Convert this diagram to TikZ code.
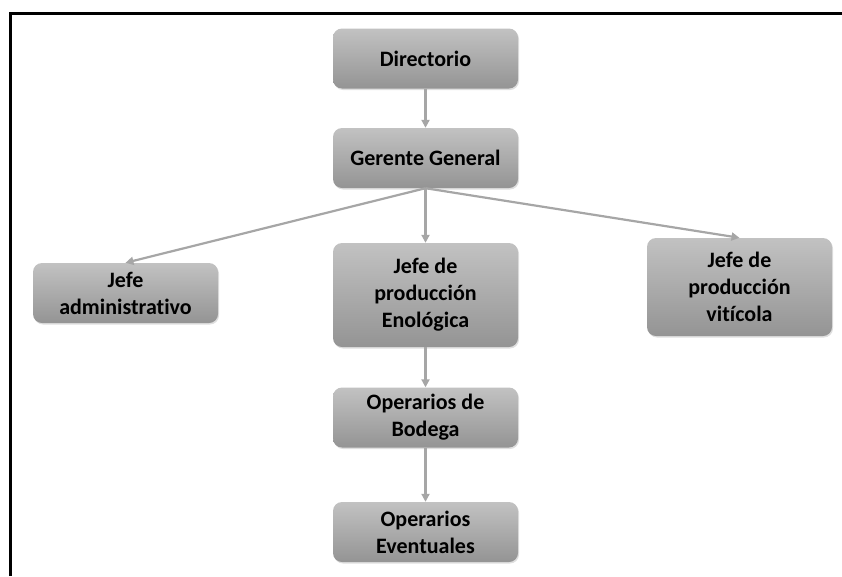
\documentclass[tikz,border=0pt]{standalone}
\usepackage{fontspec}
\setmainfont{Carlito}[Ligatures={NoCommon}]
\usetikzlibrary{arrows.meta,shadows}
\begin{document}
\begin{tikzpicture}[x=1pt,y=-1pt,
  cargo/.style={draw=none, rounded corners=9pt, top color=black!24, bottom color=black!42,
    drop shadow={opacity=0.25, shadow xshift=1pt, shadow yshift=-1.5pt},
    minimum width=185pt, minimum height=60pt, align=center,
    font=\fontsize{22}{27}\selectfont\bfseries},
  flecha/.style={draw=black!35, line width=2.2pt, -{Triangle[length=8pt,width=8pt]}}]
\useasboundingbox (0,0) rectangle (842,576);
% marco
\draw[line width=3pt] (10.5,576) -- (10.5,13.5) -- (842,13.5);
% cargos
\node[cargo] (dir) at (425.5,58.5) {Directorio};
\node[cargo] (ger) at (425.5,158) {Gerente General};
\node[cargo] (adm) at (125.5,293) {Jefe\\administrativo};
\node[cargo, minimum height=104pt] (eno) at (425.5,295) {Jefe de\\producción\\Enológica};
\node[cargo, minimum height=98pt] (vit) at (739.5,287) {Jefe de\\producción\\vitícola};
\node[cargo] (bod) at (425.5,417.5) {Operarios de\\Bodega};
\node[cargo] (eve) at (425.5,532) {Operarios\\Eventuales};
% lineas
\draw[flecha] (dir.south) -- (ger.north);
\foreach \j in {adm,eno,vit} \draw[flecha] (ger.south) -- (\j.north);
\draw[flecha] (eno.south) -- (bod.north);
\draw[flecha] (bod.south) -- (eve.north);
\end{tikzpicture}
\end{document}
